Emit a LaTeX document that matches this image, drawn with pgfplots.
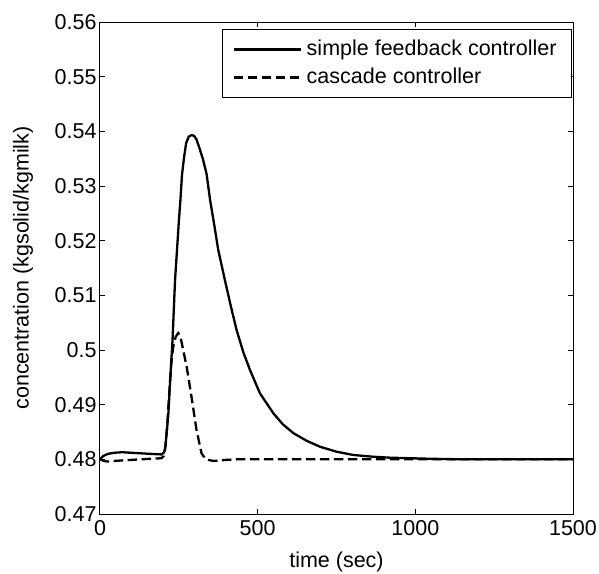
\documentclass[border=0pt]{standalone}
\usepackage{fontspec}
\setmainfont{Liberation Sans}
\usepackage{pgfplots}
\pgfplotsset{compat=1.18}
\begin{document}
\begin{tikzpicture}[font=\fontsize{21.5bp}{26bp}\selectfont]
\useasboundingbox (-100bp,-60bp) rectangle (499bp,514bp);
\begin{axis}[
  at={(0,0)}, anchor=south west,
  scale only axis, width=473bp, height=492bp,
  xmin=0, xmax=1500, ymin=0.47, ymax=0.56,
  xtick={0,500,1000,1500},
  ytick={0.47,0.48,0.49,0.50,0.51,0.52,0.53,0.54,0.55,0.56},
  yticklabels={0.47,0.48,0.49,0.5,0.51,0.52,0.53,0.54,0.55,0.56},
  tick align=inside, major tick length=5bp,
  axis line style={line width=1bp},
  every tick/.style={black, line width=1bp},
  /pgf/number format/assume math mode=true,
  xticklabel style={/pgf/number format/1000 sep={}, yshift=-3bp},
  scaled y ticks=false,
  xlabel={time (sec)},
  ylabel={concentration (kgsolid/kgmilk)},
  xlabel style={at={(axis description cs:0.5,-0.0976)}, anchor=center},
  ylabel style={at={(axis description cs:-0.1628,0.5)}, anchor=center, rotate=0},
  legend style={at={(1,1)}, anchor=north east, xshift=-1bp, yshift=-7bp,
    draw=black, line width=1bp, inner xsep=10bp, inner ysep=6bp, row sep=0bp,
    nodes={inner xsep=5bp, inner ysep=3bp, text height=17bp, text depth=5bp}},
  legend cell align=left,
  legend image code/.code={\draw[#1] (0bp,0bp) -- (67bp,0bp);},
]
\addplot[black, line width=2.3bp] coordinates {
(0,0.4800) (10,0.4806) (25,0.4810) (45,0.4812) (70,0.4813) (100,0.4812)
(130,0.4811) (160,0.4810) (195,0.4809) (202,0.4812) (206,0.4817) (211,0.4845)
(217,0.4885) (223,0.4950) (230,0.5018) (238,0.5128) (245,0.5190) (250,0.5235)
(255,0.5274) (260,0.5320) (266,0.5350) (273,0.5378) (281,0.5390) (290,0.5393)
(298,0.5392) (306,0.5385) (315,0.5370) (326,0.5350) (338,0.5322) (349,0.5275)
(362,0.5230) (375,0.5183) (396,0.5128) (415,0.5080) (433,0.5037) (455,0.4995)
(476,0.4963) (507,0.4921) (550,0.4884) (580,0.4864) (613,0.4848) (655,0.4834)
(698,0.4823) (750,0.4814) (803,0.4808) (860,0.4805) (920,0.4803) (985,0.4802)
(1050,0.4801) (1150,0.4800) (1500,0.4800)
};
\addlegendentry{simple feedback controller}
\addplot[black, line width=2.3bp, dash pattern=on 9.5bp off 4.5bp] coordinates {
(0,0.4800) (12,0.4797) (25,0.4796) (45,0.4797) (70,0.4798) (100,0.4799)
(130,0.4800) (160,0.4801) (195,0.4802) (202,0.4806) (208,0.4825) (214,0.4870)
(220,0.4925) (226,0.4975) (232,0.5005) (240,0.5024) (248,0.5031) (255,0.5025)
(262,0.5005) (275,0.4969) (290,0.4915) (306,0.4854) (322,0.4811) (333,0.4802)
(343,0.4799) (360,0.4797) (380,0.4798) (401,0.4799) (433,0.4800) (1000,0.4800)
(1500,0.4800)
};
\addlegendentry{cascade controller}
\end{axis}
\end{tikzpicture}
\end{document}
